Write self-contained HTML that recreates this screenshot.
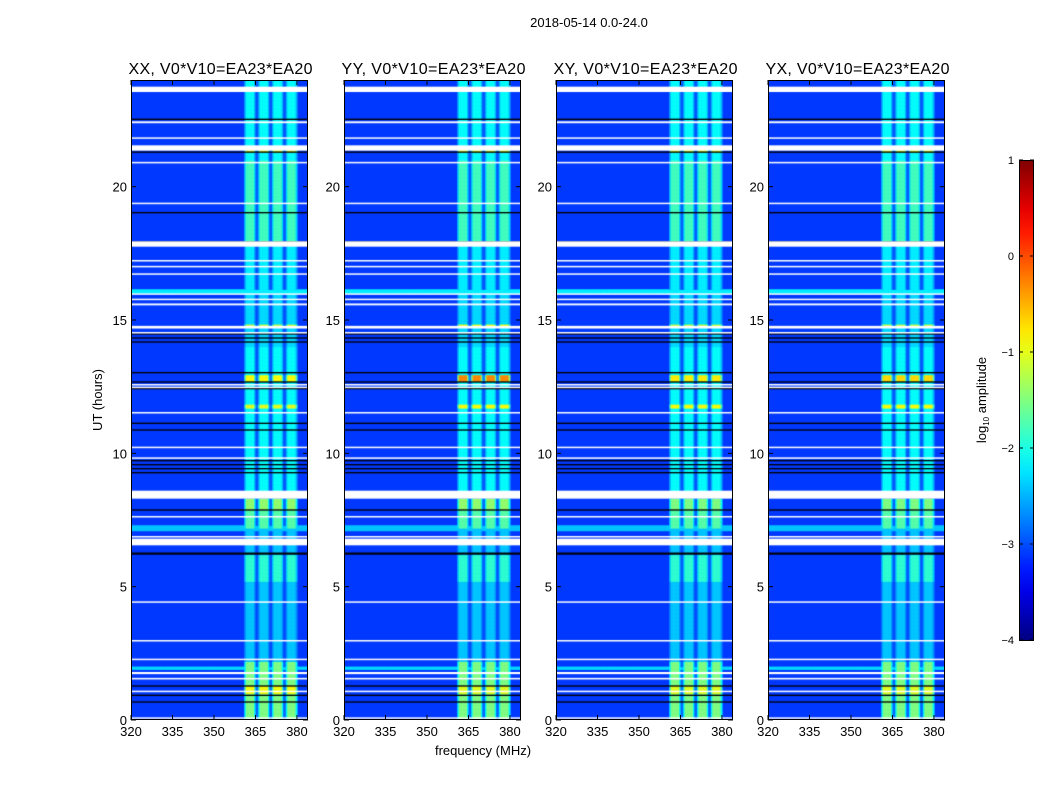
<!DOCTYPE html>
<html><head><meta charset="utf-8">
<style>
body{margin:0;background:#fff;width:1050px;height:800px;overflow:hidden;position:relative;font-family:"Liberation Sans","DejaVu Sans",sans-serif}
canvas{position:absolute}
svg{position:absolute;left:0;top:0}
</style></head>
<body>
<canvas id="c0" width="177" height="640" style="left:131px;top:80px"></canvas>
<canvas id="c1" width="177" height="640" style="left:344px;top:80px"></canvas>
<canvas id="c2" width="177" height="640" style="left:556px;top:80px"></canvas>
<canvas id="c3" width="177" height="640" style="left:768px;top:80px"></canvas>
<svg id="ov" width="1050" height="800"></svg>
<script>
// ---- data ----
const panelTitles = ["XX, V0*V10=EA23*EA20","YY, V0*V10=EA23*EA20","XY, V0*V10=EA23*EA20","YX, V0*V10=EA23*EA20"];
const panelLefts = [131,344,556,768];
const xTicks = [320,335,350,365,380];
const yTicks = [0,5,10,15,20];
const cbTicks = [1,0,-1,-2,-3,-4];
const background = -3.1;
// sub-band edges in MHz [start,end]
const subBands = [[361,365.2],[366,370.2],[371,375.2],[376,380.2]];
// activity segments: [t0,t1,log10 amplitude]
const activity = [[0,2.2,-1.5],[2.2,5.2,-2.4],[5.2,6.2,-1.9],[6.2,7.2,-2.4],[7.2,8.3,-1.7],[8.6,11,-2.1],[11,14,-2.1],[14,16,-2.3],[16,17.8,-2.2],[17.8,21,-1.8],[21,24,-2.1]];
const highlights0 = [[12.7,12.95,-0.9],[11.7,11.85,-1.0],[21.3,21.45,-1.0],[14.75,14.85,-1.1],[1.0,1.3,-0.9],[7.9,8.3,-1.4]];
const highlights1 = [[12.7,12.95,-0.3],[11.7,11.85,-0.9],[21.3,21.45,-1.0],[14.75,14.85,-0.9],[1.0,1.3,-1.0],[7.9,8.3,-1.4]];
const highlights2 = [[12.7,12.95,-0.8],[11.7,11.85,-0.9],[21.3,21.45,-1.0],[14.75,14.85,-1.1],[1.0,1.3,-1.0],[7.9,8.3,-1.5]];
const highlights3 = [[12.7,12.95,-0.7],[11.7,11.85,-0.9],[21.3,21.45,-1.0],[14.75,14.85,-1.1],[1.0,1.3,-1.0],[7.9,8.3,-1.5]];
// full-width cyan stripes [t0,t1,value]
const stripes = [[16.0,16.15,-2.2],[7.1,7.3,-2.4],[1.9,2.0,-2.3],[6.6,6.75,-2.5]];
// flagged (white) rows [t0,t1]
const flagged = [[23.55,23.75],[22.38,22.45],[21.8,21.85],[21.35,21.55],[20.88,20.93],[19.35,19.4],[17.75,17.95],[17.2,17.25],[16.98,17.03],[16.7,16.75],[15.95,16.0],[15.75,15.8],[15.55,15.62],[14.68,14.78],[14.5,14.55],[12.55,12.6],[12.45,12.5],[11.5,11.55],[10.2,10.25],[9.8,9.85],[8.3,8.6],[7.6,7.65],[6.55,6.8],[6.85,6.9],[4.4,4.45],[2.95,3.0],[2.25,2.3],[1.72,1.8],[1.52,1.58],[1.05,1.1],[0.05,0.1]];
// black rows [t0,t1]
const blackRows = [[22.5,22.55],[21.27,21.32],[19.0,19.05],[17.9,17.95],[14.3,14.35],[14.15,14.2],[14.45,14.5],[13.0,13.05],[12.65,12.7],[12.4,12.45],[11.1,11.15],[10.85,10.9],[9.7,9.75],[9.55,9.6],[9.4,9.45],[9.25,9.3],[7.85,7.9],[6.2,6.28],[1.25,1.3],[0.9,0.95],[0.65,0.7]];
const allHighlights = [highlights0,highlights1,highlights2,highlights3];

// ---- scales ----
const fMin=320, fMax=384, tMax=24, W=177, H=640;
const xs = f => (f-fMin)/(fMax-fMin)*W;
const ys = t => H - t/tMax*H;
function jet(v){
  let x=(v+4)/5; x=Math.max(0,Math.min(1,x));
  const c=a=>Math.round(255*Math.max(0,Math.min(1,a)));
  return `rgb(${c(1.5-Math.abs(4*x-3))},${c(1.5-Math.abs(4*x-2))},${c(1.5-Math.abs(4*x-1))})`;
}
function lookup(segs,t){for(const s of segs){if(t>=s[0]&&t<s[1])return s[2];}return null;}
function gain(f){for(const b of subBands){if(f>=b[0]&&f<b[1]){const d=Math.min(f-b[0],b[1]-f);return d<0.5?0.6:1;}}return (f>=361&&f<380.2)?0.15:0;}

const dt=0.05, df=0.5;
for(let p=0;p<4;p++){
  const ctx=document.getElementById('c'+p).getContext('2d');
  ctx.fillStyle=jet(background);ctx.fillRect(0,0,W,H);
  for(let t=0;t<tMax;t+=dt){
    const tc=t+dt/2;
    const a=lookup(allHighlights[p],tc) ?? lookup(activity,tc) ?? background;
    const s=lookup(stripes,tc);
    for(let f=fMin;f<fMax;f+=df){
      const g=gain(f+df/2);
      let v=background+g*(a-background);
      if(s!==null) v=Math.max(v,s);
      if(v===background)continue;
      ctx.fillStyle=jet(v);
      ctx.fillRect(xs(f),ys(t+dt),xs(f+df)-xs(f)+0.5,ys(t)-ys(t+dt)+0.5);
    }
  }
  ctx.fillStyle='#000';
  for(const r of blackRows){ctx.fillRect(0,ys(r[1]),W,Math.max(1,ys(r[0])-ys(r[1])));}
  ctx.fillStyle='#fff';
  for(const r of flagged){ctx.fillRect(0,ys(r[1]),W,Math.max(1.5,ys(r[0])-ys(r[1])));}
}

// ---- axes overlay ----
const NS='http://www.w3.org/2000/svg';
const svg=document.getElementById('ov');
function mk(tag,attrs,parent){const e=document.createElementNS(NS,tag);for(const k in attrs)e.setAttribute(k,attrs[k]);(parent||svg).appendChild(e);return e;}
function txt(x,y,s,size,anchor,parent){const e=mk('text',{x:x,y:y,'font-size':size,'text-anchor':anchor||'middle',fill:'#000'},parent);e.textContent=s;return e;}

const title=txt(589,27,"2018-05-14 0.0-24.0",13);



for(let p=0;p<4;p++){
  const L=panelLefts[p], T=80;
  const g=mk('g',{});
  
  
  const fr=mk('rect',{x:L+0.5,y:T+0.5,width:W-1,height:H-1,fill:'none',stroke:'#000','stroke-width':1},g);
  
  
  const pt=txt(L+W/2+1,74,panelTitles[p],16,'middle',g);
  pt.setAttribute('textLength','184');
  
  
  for(const f of xTicks){
    const x=L+xs(f);
    mk('line',{x1:x,y1:T+H,x2:x,y2:T+H-5,stroke:'#000'},g);
    mk('line',{x1:x,y1:T,x2:x,y2:T+5,stroke:'#000'},g);
    const tl=txt(x,T+H+16,String(f),13,'middle',g);
    
    
  }
  for(const t of yTicks){
    const y=T+ys(t);
    mk('line',{x1:L,y1:y,x2:L+5,y2:y,stroke:'#000'},g);
    mk('line',{x1:L+W,y1:y,x2:L+W-5,y2:y,stroke:'#000'},g);
    const tl=txt(L-4,y+5,String(t),13,'end',g);
    
    
  }
}
const yl=txt(0,0,"UT (hours)",13);
yl.setAttribute('transform','translate(102,400) rotate(-90)');


const xl=txt(483,755,"frequency (MHz)",13);



// colorbar
const defs=mk('defs',{});
const lg=mk('linearGradient',{id:'jetg',x1:0,y1:1,x2:0,y2:0},defs);
for(let i=0;i<=20;i++){mk('stop',{offset:i/20,'stop-color':jet(-4+5*i/20)},lg);}
const cb=mk('rect',{x:1019.5,y:160.5,width:14,height:480,fill:'url(#jetg)',stroke:'#000','stroke-width':1});


const cbs=v=>160+(1-v)/5*480;
for(const v of cbTicks){
  const y=cbs(v);
  mk('line',{x1:1019,y1:y,x2:1023,y2:y,stroke:'#000'});
  mk('line',{x1:1034,y1:y,x2:1030,y2:y,stroke:'#000'});
  const tl=txt(1014,y+4,v<0?'\u2212'+(-v):String(v),11,'end');
  
  
}
const cl=mk('text',{transform:'translate(986,400) rotate(-90)','font-size':13,'text-anchor':'middle',fill:'#000'});
cl.innerHTML='log<tspan font-size="8" dy="3">10</tspan><tspan dy="-3"> amplitude</tspan>';


</script>
</body></html>
